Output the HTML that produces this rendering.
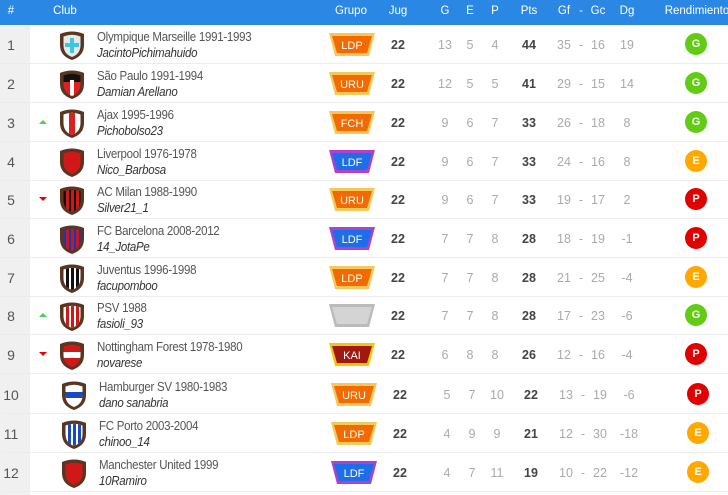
<!DOCTYPE html>
<html><head><meta charset="utf-8"><style>
*{margin:0;padding:0;box-sizing:border-box}
body{width:728px;height:495px;overflow:hidden;background:#fff;font-family:"Liberation Sans",sans-serif;position:relative}
.hd{position:absolute;left:0;top:0;width:728px;height:25px;background:#2a88e4;color:#fff;font-size:11.5px}
.hd span,.r span{position:absolute;transform:translateX(-50%);white-space:nowrap}
.gc{position:absolute;left:0;top:25px;width:30px;height:470px;background:#f0f0f0}
.r{position:absolute;left:0;width:728px;height:39px;border-bottom:1px solid #ececec;font-size:12.5px;color:#aaa}
.r span{top:13px}
.n{color:#555;font-size:14px;top:12px!important}
.b{color:#444;font-weight:bold}
.nm{position:absolute;left:97px;top:4px;color:#555;font-size:12.5px;letter-spacing:-0.3px;line-height:16px;transform:scaleX(0.92);transform-origin:left;white-space:nowrap}
.nm i{display:block;color:#333}
.sh{position:absolute;left:59px;top:5px}
.bg{position:absolute;left:328px;top:7px}
.rd{position:absolute;left:685px;top:8px;width:22px;height:22px;border-radius:50%;color:#fff;font-weight:bold;font-size:11px;text-align:center;line-height:22px}
.G{background:#62cc14}.E{background:#ffa800}.P{background:#e00000}
.up,.dn{position:absolute;left:39px;top:17px;width:0;height:0;border-left:4px solid transparent;border-right:4px solid transparent}
.up{border-bottom:4px solid #5c5;}
.dn{border-top:4px solid #e00}
</style></head><body>
<div class="hd">
<span style="left:11px;top:5px">#</span><span style="left:65px;top:5px">Club</span><span style="left:351px;top:5px">Grupo</span><span style="left:398px;top:5px">Jug</span><span style="left:445px;top:5px">G</span><span style="left:470px;top:5px">E</span><span style="left:495px;top:5px">P</span><span style="left:529px;top:5px">Pts</span><span style="left:564px;top:5px">Gf</span><span style="left:581px;top:5px">-</span><span style="left:598px;top:5px">Gc</span><span style="left:627px;top:5px">Dg</span><span style="left:697px;top:5px">Rendimiento</span>
</div>
<div class="gc"></div>
<svg width="0" height="0" style="position:absolute"><defs>
<path id="s" d="M1 4 Q13 -1 25 4 L25 15 Q25 26 13 30 Q1 26 1 15Z"/>
<clipPath id="c"><path d="M4.5 6.5 Q13 3 21.5 6.5 L21.5 15 Q21.5 24 13 27 Q4.5 24 4.5 15Z"/></clipPath>
</defs></svg>

<div class="r" style="top:25px"><span class="n" style="left:11px">1</span>
<svg class="sh" width="26" height="31"><use href="#s" fill="#5a3522"/><g clip-path="url(#c)"><rect width="26" height="31" fill="#e8e8e8"/><path d="M11 8h4v5h5v4h-5v6h-4v-6h-5v-4h5z" fill="#3cc8e0"/></g></svg>
<div class="nm">Olympique Marseille 1991-1993<i>JacintoPichimahuido</i></div>
<svg class="bg" width="48" height="25"><polygon points="1,1 47,1 41,24 7,24" fill="#f2c95a"/><polygon points="4,4 44,4 39,21 9,21" fill="#f26a00"/><text x="24" y="17" fill="#fff" font-size="11" text-anchor="middle" font-family="Liberation Sans">LDP</text></svg>
<span class="b" style="left:398px">22</span><span style="left:445px">13</span><span style="left:470px">5</span><span style="left:495px">4</span><span class="b" style="left:529px">44</span><span style="left:564px">35</span><span style="left:581px">-</span><span style="left:598px">16</span><span style="left:627px">19</span><div class="rd G">G</div></div>

<div class="r" style="top:64px"><span class="n" style="left:11px">2</span>
<svg class="sh" width="26" height="31"><use href="#s" fill="#5a3522"/><g clip-path="url(#c)"><rect width="26" height="31" fill="#e02020"/><rect width="26" height="13" fill="#111"/><rect x="11" y="11" width="4" height="16" fill="#fff"/></g></svg>
<div class="nm">São Paulo 1991-1994<i>Damian Arellano</i></div>
<svg class="bg" width="48" height="25"><polygon points="1,1 47,1 41,24 7,24" fill="#f2c95a"/><polygon points="4,4 44,4 39,21 9,21" fill="#f26a00"/><text x="24" y="17" fill="#fff" font-size="11" text-anchor="middle" font-family="Liberation Sans">URU</text></svg>
<span class="b" style="left:398px">22</span><span style="left:445px">12</span><span style="left:470px">5</span><span style="left:495px">5</span><span class="b" style="left:529px">41</span><span style="left:564px">29</span><span style="left:581px">-</span><span style="left:598px">15</span><span style="left:627px">14</span><div class="rd G">G</div></div>

<div class="r" style="top:103px"><span class="n" style="left:11px">3</span><div class="up"></div>
<svg class="sh" width="26" height="31"><use href="#s" fill="#5a3522"/><g clip-path="url(#c)"><rect width="26" height="31" fill="#fff"/><rect x="10" width="6" height="31" fill="#e02020"/></g></svg>
<div class="nm">Ajax 1995-1996<i>Pichobolso23</i></div>
<svg class="bg" width="48" height="25"><polygon points="1,1 47,1 41,24 7,24" fill="#f2c95a"/><polygon points="4,4 44,4 39,21 9,21" fill="#f26a00"/><text x="24" y="17" fill="#fff" font-size="11" text-anchor="middle" font-family="Liberation Sans">FCH</text></svg>
<span class="b" style="left:398px">22</span><span style="left:445px">9</span><span style="left:470px">6</span><span style="left:495px">7</span><span class="b" style="left:529px">33</span><span style="left:564px">26</span><span style="left:581px">-</span><span style="left:598px">18</span><span style="left:627px">8</span><div class="rd G">G</div></div>

<div class="r" style="top:142px"><span class="n" style="left:11px">4</span>
<svg class="sh" width="26" height="31"><use href="#s" fill="#5a3522"/><g clip-path="url(#c)"><rect width="26" height="31" fill="#d01818"/></g></svg>
<div class="nm">Liverpool 1976-1978<i>Nico_Barbosa</i></div>
<svg class="bg" width="48" height="25"><polygon points="1,1 47,1 41,24 7,24" fill="#b040d0"/><polygon points="4,4 44,4 39,21 9,21" fill="#1e6ee8"/><text x="24" y="17" fill="#fff" font-size="11" text-anchor="middle" font-family="Liberation Sans">LDF</text></svg>
<span class="b" style="left:398px">22</span><span style="left:445px">9</span><span style="left:470px">6</span><span style="left:495px">7</span><span class="b" style="left:529px">33</span><span style="left:564px">24</span><span style="left:581px">-</span><span style="left:598px">16</span><span style="left:627px">8</span><div class="rd E">E</div></div>

<div class="r" style="top:180px"><span class="n" style="left:11px">5</span><div class="dn"></div>
<svg class="sh" width="26" height="31"><use href="#s" fill="#5a3522"/><g clip-path="url(#c)"><rect width="26" height="31" fill="#111"/><rect x="7" width="3" height="31" fill="#d01818"/><rect x="12" width="3" height="31" fill="#d01818"/><rect x="17" width="3" height="31" fill="#d01818"/></g></svg>
<div class="nm">AC Milan 1988-1990<i>Silver21_1</i></div>
<svg class="bg" width="48" height="25"><polygon points="1,1 47,1 41,24 7,24" fill="#f2c95a"/><polygon points="4,4 44,4 39,21 9,21" fill="#f26a00"/><text x="24" y="17" fill="#fff" font-size="11" text-anchor="middle" font-family="Liberation Sans">URU</text></svg>
<span class="b" style="left:398px">22</span><span style="left:445px">9</span><span style="left:470px">6</span><span style="left:495px">7</span><span class="b" style="left:529px">33</span><span style="left:564px">19</span><span style="left:581px">-</span><span style="left:598px">17</span><span style="left:627px">2</span><div class="rd P">P</div></div>

<div class="r" style="top:219px"><span class="n" style="left:11px">6</span>
<svg class="sh" width="26" height="31"><use href="#s" fill="#5a3522"/><g clip-path="url(#c)"><rect width="26" height="31" fill="#1a3aa0"/><rect x="7" width="3" height="31" fill="#c01830"/><rect x="12" width="3" height="31" fill="#c01830"/><rect x="17" width="3" height="31" fill="#c01830"/></g></svg>
<div class="nm">FC Barcelona 2008-2012<i>14_JotaPe</i></div>
<svg class="bg" width="48" height="25"><polygon points="1,1 47,1 41,24 7,24" fill="#b040d0"/><polygon points="4,4 44,4 39,21 9,21" fill="#1e6ee8"/><text x="24" y="17" fill="#fff" font-size="11" text-anchor="middle" font-family="Liberation Sans">LDF</text></svg>
<span class="b" style="left:398px">22</span><span style="left:445px">7</span><span style="left:470px">7</span><span style="left:495px">8</span><span class="b" style="left:529px">28</span><span style="left:564px">18</span><span style="left:581px">-</span><span style="left:598px">19</span><span style="left:627px">-1</span><div class="rd P">P</div></div>

<div class="r" style="top:258px"><span class="n" style="left:11px">7</span>
<svg class="sh" width="26" height="31"><use href="#s" fill="#5a3522"/><g clip-path="url(#c)"><rect width="26" height="31" fill="#fff"/><rect x="7" width="3" height="31" fill="#111"/><rect x="12" width="3" height="31" fill="#111"/><rect x="17" width="3" height="31" fill="#111"/></g></svg>
<div class="nm">Juventus 1996-1998<i>facupomboo</i></div>
<svg class="bg" width="48" height="25"><polygon points="1,1 47,1 41,24 7,24" fill="#f2c95a"/><polygon points="4,4 44,4 39,21 9,21" fill="#f26a00"/><text x="24" y="17" fill="#fff" font-size="11" text-anchor="middle" font-family="Liberation Sans">LDP</text></svg>
<span class="b" style="left:398px">22</span><span style="left:445px">7</span><span style="left:470px">7</span><span style="left:495px">8</span><span class="b" style="left:529px">28</span><span style="left:564px">21</span><span style="left:581px">-</span><span style="left:598px">25</span><span style="left:627px">-4</span><div class="rd E">E</div></div>

<div class="r" style="top:296px"><span class="n" style="left:11px">8</span><div class="up"></div>
<svg class="sh" width="26" height="31"><use href="#s" fill="#5a3522"/><g clip-path="url(#c)"><rect width="26" height="31" fill="#fff"/><rect x="7" width="3" height="31" fill="#d01818"/><rect x="12" width="3" height="31" fill="#d01818"/><rect x="17" width="3" height="31" fill="#d01818"/></g></svg>
<div class="nm">PSV 1988<i>fasioli_93</i></div>
<svg class="bg" width="48" height="25"><polygon points="1,1 47,1 41,24 7,24" fill="#bbb"/><polygon points="4,4 44,4 39,21 9,21" fill="#d4d4d4"/></svg>
<span class="b" style="left:398px">22</span><span style="left:445px">7</span><span style="left:470px">7</span><span style="left:495px">8</span><span class="b" style="left:529px">28</span><span style="left:564px">17</span><span style="left:581px">-</span><span style="left:598px">23</span><span style="left:627px">-6</span><div class="rd G">G</div></div>

<div class="r" style="top:335px"><span class="n" style="left:11px">9</span><div class="dn"></div>
<svg class="sh" width="26" height="31"><use href="#s" fill="#5a3522"/><g clip-path="url(#c)"><rect width="26" height="31" fill="#d01818"/><rect y="12" width="26" height="6" fill="#fff"/></g></svg>
<div class="nm">Nottingham Forest 1978-1980<i>novarese</i></div>
<svg class="bg" width="48" height="25"><polygon points="1,1 47,1 41,24 7,24" fill="#f2c800"/><polygon points="4,4 44,4 39,21 9,21" fill="#a01810"/><text x="24" y="17" fill="#fff" font-size="11" text-anchor="middle" font-family="Liberation Sans">KAI</text></svg>
<span class="b" style="left:398px">22</span><span style="left:445px">6</span><span style="left:470px">8</span><span style="left:495px">8</span><span class="b" style="left:529px">26</span><span style="left:564px">12</span><span style="left:581px">-</span><span style="left:598px">16</span><span style="left:627px">-4</span><div class="rd P">P</div></div>

<div class="r" style="top:375px;left:2px"><span class="n" style="left:9px">10</span>
<svg class="sh" width="26" height="31"><use href="#s" fill="#5a3522"/><g clip-path="url(#c)"><rect width="26" height="31" fill="#fff"/><rect y="12" width="26" height="6" fill="#1a4ac0"/></g></svg>
<div class="nm">Hamburger SV 1980-1983<i>dano sanabria</i></div>
<svg class="bg" width="48" height="25"><polygon points="1,1 47,1 41,24 7,24" fill="#f2c95a"/><polygon points="4,4 44,4 39,21 9,21" fill="#f26a00"/><text x="24" y="17" fill="#fff" font-size="11" text-anchor="middle" font-family="Liberation Sans">URU</text></svg>
<span class="b" style="left:398px">22</span><span style="left:445px">5</span><span style="left:470px">7</span><span style="left:495px">10</span><span class="b" style="left:529px">22</span><span style="left:564px">13</span><span style="left:581px">-</span><span style="left:598px">19</span><span style="left:627px">-6</span><div class="rd P">P</div></div>

<div class="r" style="top:414px;left:2px"><span class="n" style="left:9px">11</span>
<svg class="sh" width="26" height="31"><use href="#s" fill="#5a3522"/><g clip-path="url(#c)"><rect width="26" height="31" fill="#fff"/><rect x="7" width="3" height="31" fill="#1a4ac0"/><rect x="12" width="3" height="31" fill="#1a4ac0"/><rect x="17" width="3" height="31" fill="#1a4ac0"/></g></svg>
<div class="nm">FC Porto 2003-2004<i>chinoo_14</i></div>
<svg class="bg" width="48" height="25"><polygon points="1,1 47,1 41,24 7,24" fill="#f2c95a"/><polygon points="4,4 44,4 39,21 9,21" fill="#f26a00"/><text x="24" y="17" fill="#fff" font-size="11" text-anchor="middle" font-family="Liberation Sans">LDP</text></svg>
<span class="b" style="left:398px">22</span><span style="left:445px">4</span><span style="left:470px">9</span><span style="left:495px">9</span><span class="b" style="left:529px">21</span><span style="left:564px">12</span><span style="left:581px">-</span><span style="left:598px">30</span><span style="left:627px">-18</span><div class="rd E">E</div></div>

<div class="r" style="top:453px;left:2px"><span class="n" style="left:9px">12</span>
<svg class="sh" width="26" height="31"><use href="#s" fill="#5a3522"/><g clip-path="url(#c)"><rect width="26" height="31" fill="#d01818"/></g></svg>
<div class="nm">Manchester United 1999<i>10Ramiro</i></div>
<svg class="bg" width="48" height="25"><polygon points="1,1 47,1 41,24 7,24" fill="#b040d0"/><polygon points="4,4 44,4 39,21 9,21" fill="#1e6ee8"/><text x="24" y="17" fill="#fff" font-size="11" text-anchor="middle" font-family="Liberation Sans">LDF</text></svg>
<span class="b" style="left:398px">22</span><span style="left:445px">4</span><span style="left:470px">7</span><span style="left:495px">11</span><span class="b" style="left:529px">19</span><span style="left:564px">10</span><span style="left:581px">-</span><span style="left:598px">22</span><span style="left:627px">-12</span><div class="rd E">E</div></div>
</body></html>
